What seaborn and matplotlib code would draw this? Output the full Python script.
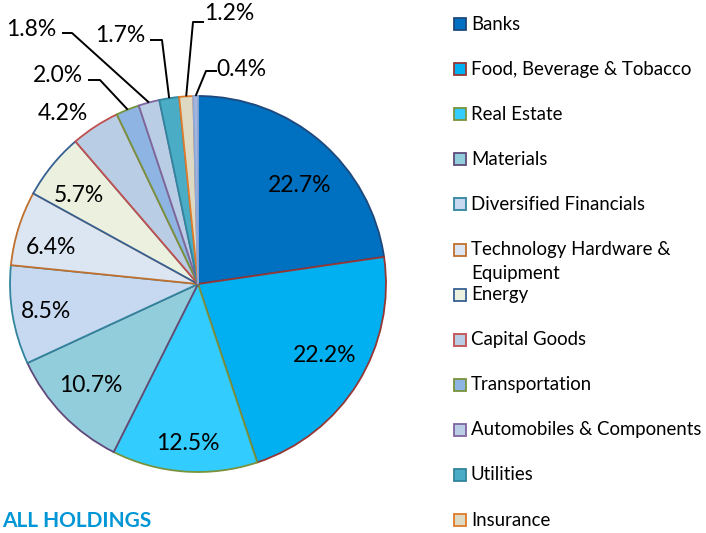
import matplotlib
matplotlib.use("Agg")
import matplotlib.pyplot as plt
import seaborn as sns
import numpy as np
from matplotlib.patches import Rectangle

# ---------------- data ----------------
sectors = ["Banks", "Food, Beverage & Tobacco", "Real Estate", "Materials",
           "Diversified Financials", "Technology Hardware &\nEquipment", "Energy",
           "Capital Goods", "Transportation", "Automobiles & Components",
           "Utilities", "Insurance", "Other"]
weights = [22.7, 22.2, 12.5, 10.7, 8.5, 6.4, 5.7, 4.2, 2.0, 1.8, 1.7, 1.2, 0.4]

fill_colors = ["#0070C0", "#00B0F0", "#33CCFF", "#92CDDC", "#C6D9F1", "#DCE6F2",
               "#EBF1DE", "#B9CDE5", "#8EB4E3", "#B9CDE5", "#4BACC6", "#DDD9C3",
               "#A6B6DA"]
edge_colors = ["#1F497D", "#953735", "#77933C", "#604A7B", "#31859C", "#C0702E",
               "#376092", "#C0504D", "#77933C", "#8064A2", "#31859C", "#E07B2A",
               "#8EA9DB"]

# ---------------- layout (pixels) ----------------
W, H = 706, 533
CX, CY, R = 198, 284, 188
# label centres in pixels (x, y from top)
label_px = [(300, 185), (325, 355), (188, 444), (91, 385), (46, 311), (51, 247),
            (79, 196), (63, 114), (58, 75), (31, 29), (120, 36), (229, 14),
            (241, 69)]
# leader lines: (start px, elbow px) for outside labels with lines
leader = {8: ((88, 80), (100, 80)), 9: ((62, 33), (72, 33)),
          10: ((150, 40), (162, 40)), 11: ((204, 22), (193, 22)),
          12: ((217, 71), (206, 71))}

sns.set_theme(style="white")
plt.rcParams['font.family'] = ['Lato', 'DejaVu Sans']

fig = plt.figure(figsize=(W / 100, H / 100), dpi=100)
ax = fig.add_axes([0, 0, 1, 1])


def d(px, py):
    return (px - CX) / R, (CY - py) / R


wedges, _ = ax.pie(weights, colors=fill_colors, startangle=90, counterclock=False,
                   wedgeprops=dict(linewidth=1.3))
for w, ec in zip(wedges, edge_colors):
    w.set_edgecolor(ec)

ax.set_xlim(-CX / R, (W - CX) / R)
ax.set_ylim(-(H - CY) / R, CY / R)
ax.set_aspect('auto')
ax.axis('off')

for i, (v, (lx, ly)) in enumerate(zip(weights, label_px)):
    x, y = d(lx, ly)
    ax.text(x, y, f"{v:.1f}%", ha='center', va='center', fontsize=16.5, color='black')
    if i in leader:
        w = wedges[i]
        mid = np.deg2rad((w.theta1 + w.theta2) / 2)
        px_end = (np.cos(mid), np.sin(mid))
        s, e = leader[i]
        xs = [d(*s)[0], d(*e)[0], px_end[0]]
        ys = [d(*s)[1], d(*e)[1], px_end[1]]
        ax.plot(xs, ys, color='black', lw=1.4, solid_capstyle='butt')

# legend (manual, to keep even spacing with a wrapped label)
leg_y0, leg_dy = 24, 45.1
for i in range(12):
    yy = leg_y0 + i * leg_dy
    x0, y0 = d(454, yy + 6)
    ax.add_patch(Rectangle((x0, y0), 12 / R, 12 / R, facecolor=fill_colors[i],
                           edgecolor=edge_colors[i], linewidth=1.3))
    for k, line in enumerate(sectors[i].split('\n')):
        tx, ty = d(471, yy + k * 24)
        ax.text(tx, ty, line, ha='left', va='center', fontsize=13.4, color='black')

# heading below the chart (in the reference it is cut by the image edge)
hx, hy = d(2, 531)
ax.text(hx, hy, "ALL HOLDINGS", ha='left', va='bottom', fontsize=15,
        fontweight='bold', color='#0096D6')

fig.savefig("out.png", dpi=100)
